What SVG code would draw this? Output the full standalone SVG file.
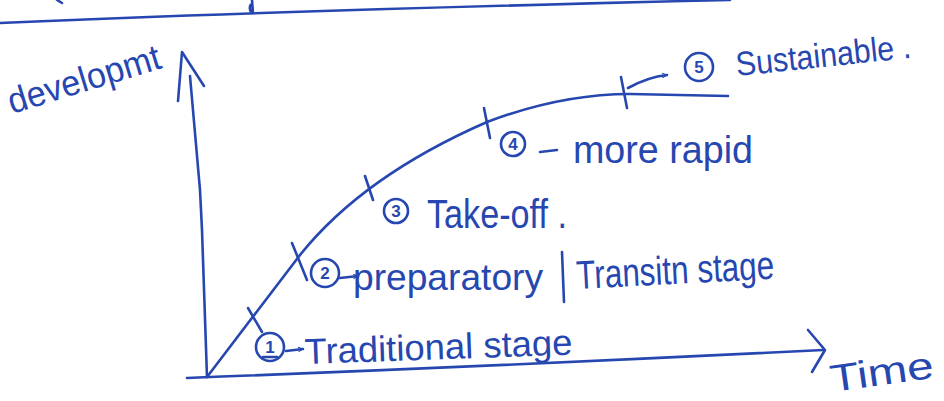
<svg xmlns="http://www.w3.org/2000/svg" width="944" height="401" viewBox="0 0 944 401">
<style>
.ink{fill:none;stroke:#2747b0;stroke-width:2.6;stroke-linecap:round;stroke-linejoin:round}
.t{font-family:"Liberation Sans",Arial,sans-serif;fill:#2747b0}
.lbl{font-size:36px}
.num{font-size:17px;font-weight:bold;text-anchor:middle}
</style>
<defs>
<marker id="ah" viewBox="0 0 10 10" refX="9" refY="5" markerWidth="6" markerHeight="6" orient="auto" markerUnits="userSpaceOnUse">
<path d="M1,1 L9,5 L1,9" fill="none" stroke="#2747b0" stroke-width="1.6"/>
</marker>
</defs>
<rect width="944" height="401" fill="#ffffff"/>
<g id="top-line">
<path class="ink" d="M0,23 Q300,10 730,0"/>
<path class="ink" d="M252,0 L253,13 M253,13 C249,12 249,5 252,4"/>
<path class="ink" d="M57,0 L62,3"/>
</g>
<g id="axes">
<path class="ink" d="M190,76 L200,190 L202,230 L207,377"/>
<path class="ink" d="M178,101 L182,52 L204,86"/>
<path class="ink" d="M187,378 Q500,366 823,350"/>
<path class="ink" d="M808,330 L825,350 L812,372"/>
</g>
<g id="curve">
<path class="ink" d="M207,377 L300,255 C340,205 400,160 487,122 C540,102 590,94 630,94 L728,96"/>
<path class="ink" d="M248,308 L262,332 M292,243 L307,280 M365,176 L373,200 M484,108 L490,138 M621,77 L627,108"/>
</g>
<g id="connectors">
<path class="ink" d="M628,88 Q648,77 667,75" marker-end="url(#ah)"/>
<path class="ink" d="M286,351 L303,349" marker-end="url(#ah)" stroke-width="2"/>
<path class="ink" d="M340,278 L358,276" marker-end="url(#ah)" stroke-width="2"/>
<path class="ink" d="M540,152 L557,150"/>
<path class="ink" d="M562,252 L564,302"/>
</g>
<g id="stage1">
<circle class="ink" cx="270" cy="347" r="14"/>
<text class="t num" x="270" y="353">1</text>
<path class="ink" d="M263,357 L277,357" stroke-width="1.8"/>
<text class="t lbl" x="305" y="364" textLength="268" lengthAdjust="spacingAndGlyphs" transform="rotate(-2 305 364)">Traditional stage</text>
</g>
<g id="stage2">
<circle class="ink" cx="325" cy="273" r="14"/>
<text class="t num" x="325" y="279">2</text>
<text class="t lbl" x="353" y="290" textLength="190" lengthAdjust="spacingAndGlyphs">preparatory</text>
<text class="t" x="577" y="289" font-size="40" textLength="198" lengthAdjust="spacingAndGlyphs" transform="rotate(-3 577 289)">Transitn stage</text>
</g>
<g id="stage3">
<circle class="ink" cx="396" cy="211" r="12"/>
<text class="t num" x="396" y="217" font-size="15">3</text>
<text class="t" x="427" y="228" font-size="40" textLength="140" lengthAdjust="spacingAndGlyphs">Take-off .</text>
</g>
<g id="stage4">
<circle class="ink" cx="513" cy="144" r="12"/>
<text class="t num" x="513" y="150" font-size="15">4</text>
<text class="t" x="573" y="163" font-size="38" textLength="180" lengthAdjust="spacingAndGlyphs">more rapid</text>
</g>
<g id="stage5">
<circle class="ink" cx="699" cy="67" r="14"/>
<text class="t num" x="699" y="73">5</text>
<text class="t" x="737" y="76" font-size="34" textLength="176" lengthAdjust="spacingAndGlyphs" transform="rotate(-6 737 76)">Sustainable .</text>
</g>
<g id="axis-labels">
<text class="t" x="12" y="114" font-size="36" textLength="158" lengthAdjust="spacingAndGlyphs" transform="rotate(-17 12 114)">developmt</text>
<text class="t" x="832" y="392" font-size="38" textLength="104" lengthAdjust="spacingAndGlyphs" transform="rotate(-8 832 392)">Time</text>
</g>
</svg>
